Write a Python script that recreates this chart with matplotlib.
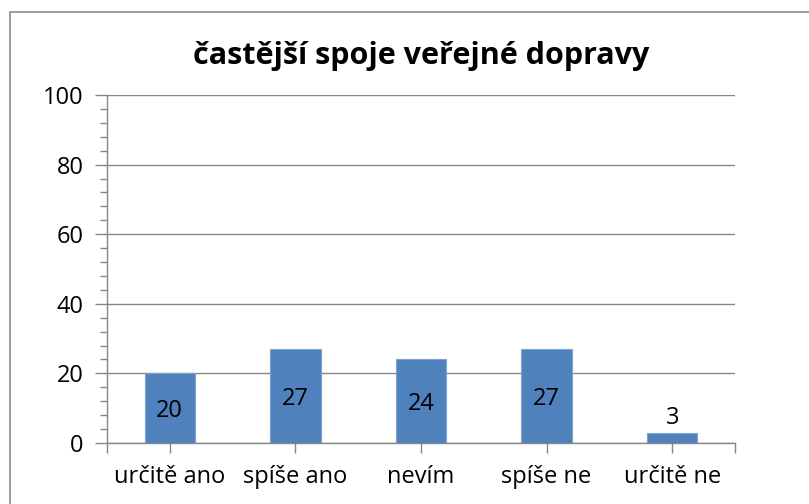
import matplotlib.pyplot as plt
from matplotlib.patches import Rectangle
import numpy as np

categories = ['určitě ano', 'spíše ano', 'nevím', 'spíše ne', 'určitě ne']
values = [20, 27, 24, 27, 3]
title = 'častější spoje veřejné dopravy'
y_ticks = [0, 20, 40, 60, 80, 100]

plt.rcParams['font.family'] = ['Open Sans', 'DejaVu Sans']

W, H = 809, 504
fig = plt.figure(figsize=(W / 100, H / 100), dpi=100)

# outer chart frame (runs off the right and bottom edges)
fig.patches.append(Rectangle((10 / W, -0.1), 1.1, 1 - 12 / H + 0.1,
                             transform=fig.transFigure, fill=False,
                             edgecolor='#8c8c8c', linewidth=1.2))

ax = fig.add_axes([107 / W, 61 / H, (735 - 107) / W, (443 - 95) / H])

grey = '#868686'
x = np.arange(len(categories))
bars = ax.bar(x, values, width=0.4, color='#4f81bd', edgecolor='#7da2cf',
              linewidth=0.8, zorder=3)

for xi, v in zip(x, values):
    if v >= 10:
        ax.text(xi, v / 2, str(v), ha='center', va='center_baseline',
                fontsize=17, zorder=4)
    else:
        ax.text(xi, v + 0.6, str(v), ha='center', va='bottom', fontsize=17, zorder=4)

ax.set_xlim(-0.5, len(categories) - 0.5)
ax.set_ylim(0, 100)
ax.set_yticks(y_ticks)
ax.set_yticks(np.arange(0, 101, 4), minor=True)
ax.set_xticks(x)
ax.set_xticks([-0.5, len(categories) - 0.5], minor=True)
ax.set_xticklabels(categories, fontsize=17)
ax.tick_params(axis='y', labelsize=17, length=9, width=1, color=grey, pad=8)
ax.tick_params(axis='y', which='minor', length=5, width=1, color=grey)
ax.tick_params(axis='x', which='both', length=7, width=1, color=grey, pad=9)

ax.yaxis.grid(True, color=grey, linewidth=1, zorder=0)
for side in ['top', 'right']:
    ax.spines[side].set_visible(False)
for side in ['left', 'bottom']:
    ax.spines[side].set_color(grey)
    ax.spines[side].set_linewidth(1)

fig.text(421 / W, 1 - 56 / H, title, ha='center', va='center',
         fontsize=22, fontweight='bold')

fig.savefig('out.png', dpi=100)
